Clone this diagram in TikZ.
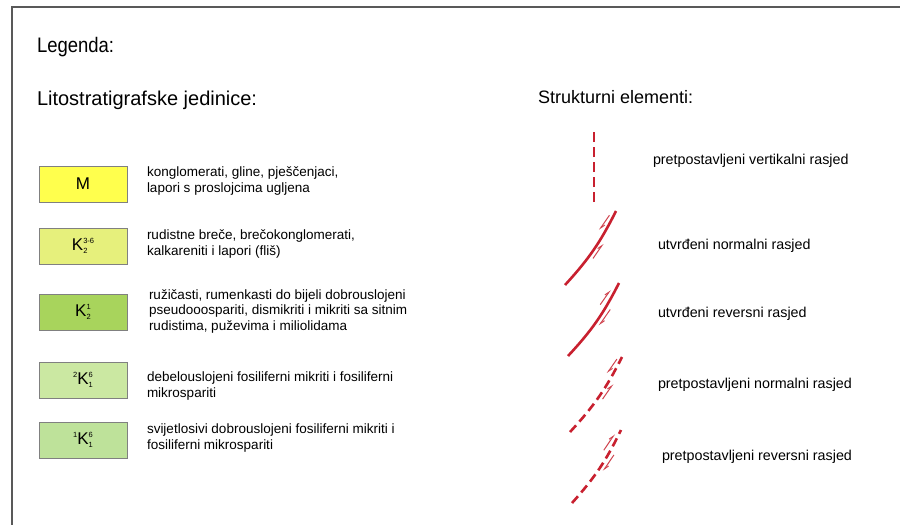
\documentclass[tikz,border=0pt]{standalone}
\usepackage{fontspec}
\setmainfont{Liberation Sans}
\newfontfamily\narrowfont[FakeStretch=0.88]{Liberation Sans}
\usetikzlibrary{arrows.meta,calc}
\definecolor{faultred}{HTML}{C8202F}
\definecolor{harpred}{HTML}{D04550}
\definecolor{cM}{HTML}{FFFF4D}
\definecolor{cKa}{HTML}{E6F07C}
\definecolor{cKb}{HTML}{A8D45C}
\definecolor{cKc}{HTML}{CBE8A2}
\definecolor{cKd}{HTML}{BEE29A}
\newsavebox\idxa
\newsavebox\idxb
\newlength\idxw
\newcommand\idx[2]{%
  \sbox\idxa{\fontsize{7.5}{8}\selectfont #1}%
  \sbox\idxb{\fontsize{7.5}{8}\selectfont #2}%
  \ifdim\wd\idxa>\wd\idxb \setlength\idxw{\wd\idxa}\else\setlength\idxw{\wd\idxb}\fi
  \makebox[\idxw][l]{\rlap{\raisebox{6.5pt}{\usebox\idxa}}\raisebox{-3pt}{\usebox\idxb}}}
\newcommand\pre[1]{\raisebox{6.5pt}{\fontsize{7.5}{8}\selectfont #1}}
\begin{document}
\begin{tikzpicture}[x=1pt,y=-1pt,
  every node/.style={inner sep=0pt,outer sep=0pt},
  frame/.style={draw=black!65,line width=1.4pt},
  title/.style={font=\narrowfont\fontsize{21}{24}\selectfont,anchor=west},
  head/.style={font=\fontsize{18}{21}\selectfont,anchor=west},
  desc/.style={font=\fontsize{13.5}{15.5}\selectfont,align=left,anchor=west},
  lab/.style={font=\fontsize{14.3}{16}\selectfont,anchor=west},
  unit/.style={draw=black!50,line width=0.8pt,minimum width=88pt,minimum height=36pt,font=\fontsize{17}{20}\selectfont},
  fault/.style={draw=faultred,line width=2.6pt},
  dfault/.style={fault,dash pattern=on 9pt off 5pt},
  harp/.style={draw=harpred,line width=1pt,-{Straight Barb[harpoon,length=4.5pt,width=3.5pt]}}]
\useasboundingbox (0,0) rectangle (900,525);
\fill[white] (0,0) rectangle (900,525);
\draw[frame] (12,525) -- (12,7) -- (900,7);

\node[title] (legenda) at (37,47) {Legenda:};
\node[head,font=\fontsize{20}{23}\selectfont] (lito) at (37,100) {Litostratigrafske jedinice:};
\node[head] (struk) at (538,97) {Strukturni elementi:};

% units
\node[unit,fill=cM] (uM) at (83,184) {M};
\node[unit,fill=cKa] (uKa) at (83,246) {K\idx{3-6}{2}};
\node[unit,fill=cKb] (uKb) at (83,312) {K\idx{1}{2}};
\node[unit,fill=cKc] (uKc) at (83,380) {\pre{2}K\idx{6}{1}};
\node[unit,fill=cKd] (uKd) at (83,440) {\pre{1}K\idx{6}{1}};

\node[desc] (dM) at (147,181) {konglomerati, gline, pješčenjaci,\\lapori s proslojcima ugljena};
\node[desc] (dKa) at (147,244) {rudistne breče, brečokonglomerati,\\kalkareniti i lapori (fliš)};
\node[desc] (dKb) at (149,311) {ružičasti, rumenkasti do bijeli dobrouslojeni\\pseudooospariti, dismikriti i mikriti sa sitnim\\rudistima, puževima i miliolidama};
\node[desc] (dKc) at (147,386) {debelouslojeni fosiliferni mikriti i fosiliferni\\mikrospariti};
\node[desc] (dKd) at (147,438) {svijetlosivi dobrouslojeni fosiliferni mikriti i\\fosiliferni mikrospariti};

% structural symbols
\coordinate (vA) at (594,202);
\coordinate (vB) at (594,130);
\draw[fault,dash pattern=on 10pt off 5pt] (vA) -- (vB);

\coordinate (nA) at (565,285);
\coordinate (nB) at (616,211);
\draw[fault] (nA) to[bend right=8] (nB);
\draw[harp] ($(nA)!0.92!(nB)!3pt!90:(nB)$) -- ($(nA)!0.72!(nB)!3pt!90:(nB)$);
\draw[harp] ($(nA)!0.42!(nB)!8pt!-90:(nB)$) -- ($(nA)!0.62!(nB)!8pt!-90:(nB)$);

\coordinate (rA) at (568,356);
\coordinate (rB) at (619,283);
\draw[fault] (rA) to[bend right=8] (rB);
\draw[harp] ($(rA)!0.68!(rB)!3pt!90:(rB)$) -- ($(rA)!0.88!(rB)!3pt!90:(rB)$);
\draw[harp] ($(rA)!0.70!(rB)!8pt!-90:(rB)$) -- ($(rA)!0.48!(rB)!8pt!-90:(rB)$);

\coordinate (pnA) at (570,432);
\coordinate (pnB) at (622,357);
\draw[dfault] (pnA) to[bend right=8] (pnB);
\draw[harp] ($(pnA)!0.95!(pnB)!3pt!90:(pnB)$) -- ($(pnA)!0.76!(pnB)!3pt!90:(pnB)$);
\draw[harp] ($(pnA)!0.50!(pnB)!8pt!-90:(pnB)$) -- ($(pnA)!0.70!(pnB)!8pt!-90:(pnB)$);

\coordinate (prA) at (572,503);
\coordinate (prB) at (621,430);
\draw[dfault] (prA) to[bend right=8] (prB);
\draw[harp] ($(prA)!0.70!(prB)!3pt!90:(prB)$) -- ($(prA)!0.92!(prB)!3pt!90:(prB)$);
\draw[harp] ($(prA)!0.72!(prB)!8pt!-90:(prB)$) -- ($(prA)!0.50!(prB)!8pt!-90:(prB)$);

\node[lab] (lv) at (653,161) {pretpostavljeni vertikalni rasjed};
\node[lab] (ln) at (658,246) {utvrđeni normalni rasjed};
\node[lab] (lr) at (658,314) {utvrđeni reversni rasjed};
\node[lab] (lpn) at (658,385) {pretpostavljeni normalni rasjed};
\node[lab] (lpr) at (662,457) {pretpostavljeni reversni rasjed};
\end{tikzpicture}
\end{document}
